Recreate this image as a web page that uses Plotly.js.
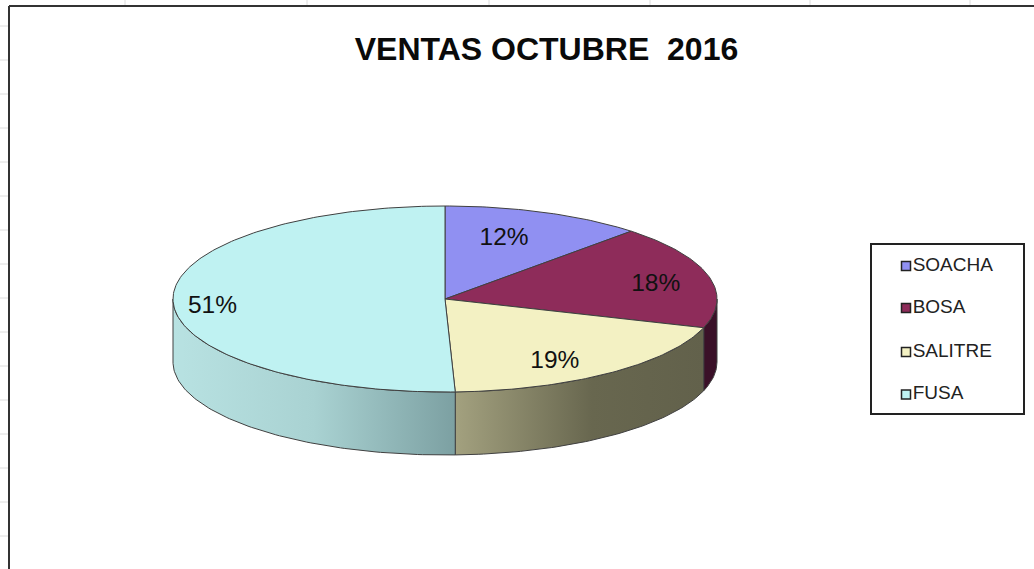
<!DOCTYPE html>
<html>
<head>
<meta charset="utf-8">
<script src="https://cdn.plot.ly/plotly-3.0.1.min.js"></script>
<style>html,body{margin:0;padding:0;background:#fff}#chart{width:1034px;height:569px}</style>
</head>
<body>
<div id="chart"></div>
<script>
// Data
const categories = ["SOACHA", "BOSA", "SALITRE", "FUSA"];
const values = [12, 18, 19.4, 50.6];
const chartTitle = "VENTAS OCTUBRE\u00A0\u00A02016";

// Styles
const topColors = ["#9090f2", "#8e2c5a", "#f3f1c3", "#bff2f2"];
const sideGradients = [
  [[0, "#3a1028"], [1, "#3a1028"]],
  [[0, "#3a1028"], [1, "#3a1028"]],
  [[0, "#a3a17f"], [0.55, "#68674f"], [1, "#62614b"]],
  [[0, "#b8e2e2"], [0.5, "#a9d2d2"], [1, "#7ca0a2"]]
];
const edge = "#404040";

// Pie geometry in page pixels
const cx = 445, cy = 299, rx = 272, ry = 93, depth = 63;
const labelFractions = [[0.59, 0.69], [0.80, 0.60], [0.67, 0.85], [0.855, 4.4]];
const legendRows = [266, 308, 352, 394.5];
const legendMarkerX = 906;

const total = values.reduce((a, b) => a + b, 0);
const rad = d => d * Math.PI / 180;
const px = a => cx + rx * Math.sin(rad(a));
const py = a => cy - ry * Math.cos(rad(a));
function arc(a0, a1) {
  const n = Math.max(2, Math.ceil(Math.abs(a1 - a0)));
  const out = [];
  for (let i = 0; i <= n; i++) out.push(a0 + (a1 - a0) * i / n);
  return out;
}

const traces = [];
const spans = [];
let acc = 0;
values.forEach(v => { spans.push([acc, acc + v / total * 360]); acc += v / total * 360; });

// Visible rim of the disc: front half only, 90 to 270 degrees
spans.forEach((s, i) => {
  const a0 = Math.max(s[0], 90), a1 = Math.min(s[1], 270);
  if (a1 <= a0) return;
  const ang = arc(a0, a1);
  const x = ang.map(px).concat(ang.slice().reverse().map(px));
  const y = ang.map(a => py(a) + depth).concat(ang.slice().reverse().map(a => py(a)));
  x.push(x[0]); y.push(y[0]);
  traces.push({
    type: "scatter", mode: "lines", x, y, fill: "toself",
    fillgradient: {type: "horizontal", colorscale: sideGradients[i]},
    line: {color: edge, width: 1}, hoverinfo: "skip", showlegend: false
  });
});

// Top face slices
spans.forEach((s, i) => {
  const ang = arc(s[0], s[1]);
  const x = [cx].concat(ang.map(px), [cx]);
  const y = [cy].concat(ang.map(py), [cy]);
  traces.push({
    type: "scatter", mode: "lines", x, y, fill: "toself",
    fillcolor: topColors[i], line: {color: edge, width: 1},
    name: categories[i], hoverinfo: "name", showlegend: false
  });
});

// Percentage labels
traces.push({
  type: "scatter", mode: "text",
  x: spans.map((s, i) => px((s[0] + s[1]) / 2) * labelFractions[i][0] + cx * (1 - labelFractions[i][0])),
  y: spans.map((s, i) => py((s[0] + s[1]) / 2) * labelFractions[i][1] + cy * (1 - labelFractions[i][1])),
  text: values.map(v => Math.round(v / total * 100) + "%"),
  textposition: "middle center",
  textfont: {family: "Liberation Sans, Arial, sans-serif", size: 24.5, color: "#111"},
  hoverinfo: "skip", showlegend: false
});

// Legend entries
traces.push({
  type: "scatter", mode: "markers+text",
  x: categories.map(() => legendMarkerX),
  y: legendRows,
  text: categories,
  textposition: "middle right",
  textfont: {family: "Liberation Sans, Arial, sans-serif", size: 19, color: "#222"},
  marker: {symbol: "square", size: 9, color: topColors, line: {color: "#222", width: 1.5}},
  hoverinfo: "skip", showlegend: false
});

// Spreadsheet grid showing around the chart object, then the chart frame
const shapes = [];
const gridColor = "#dcdcdc";
[125, 307, 489, 650, 810, 970].forEach(x =>
  shapes.push({type: "line", xref: "x", yref: "y", x0: x, x1: x, y0: 0, y1: 5, line: {color: gridColor, width: 1}}));
[26, 60, 94, 128, 162, 196, 230, 264, 298, 332, 366, 400, 434, 468, 502, 536].forEach(y =>
  shapes.push({type: "line", xref: "x", yref: "y", x0: 0, x1: 8, y0: y, y1: y, line: {color: gridColor, width: 1}}));
shapes.push({type: "line", xref: "x", yref: "y", x0: 9, x1: 1034, y0: 6, y1: 6, line: {color: "#333", width: 2}});
shapes.push({type: "line", xref: "x", yref: "y", x0: 9, x1: 9, y0: 6, y1: 569, line: {color: "#333", width: 2}});
shapes.push({type: "rect", xref: "x", yref: "y", x0: 871, x1: 1024, y0: 244, y1: 414, line: {color: "#222", width: 2}, fillcolor: "rgba(0,0,0,0)"});

const layout = {
  width: 1034, height: 569,
  margin: {l: 0, r: 0, t: 0, b: 0},
  paper_bgcolor: "#fff", plot_bgcolor: "#fff",
  showlegend: false,
  title: {
    text: "<b>" + chartTitle + "</b>",
    x: 546.5 / 1034, xanchor: "center", y: 1 - 49 / 569, yanchor: "middle",
    font: {family: "Liberation Sans, Arial, sans-serif", size: 32, color: "#0a0a0a"}
  },
  xaxis: {range: [0, 1034], visible: false, fixedrange: true},
  yaxis: {range: [569, 0], visible: false, fixedrange: true},
  shapes
};

Plotly.newPlot("chart", traces, layout, {displayModeBar: false, responsive: false});
</script>
</body>
</html>
